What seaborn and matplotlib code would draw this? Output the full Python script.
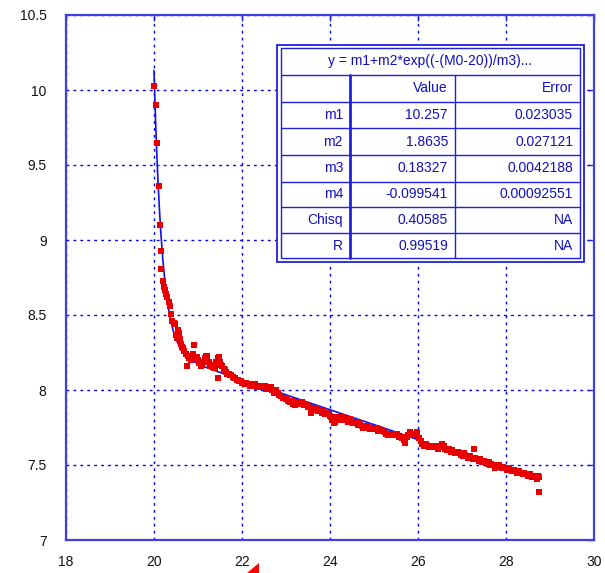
import matplotlib
matplotlib.use('Agg')
import matplotlib.pyplot as plt
import seaborn as sns
import pandas as pd
from matplotlib.patches import Rectangle, Polygon
from matplotlib.lines import Line2D

x_dados = [20.00, 20.04, 20.075, 20.11, 20.14, 20.15, 20.17, 20.20, 20.23, 20.25,
           20.27, 20.30, 20.33, 20.36, 20.39, 20.42, 20.45, 20.48, 20.50, 20.53,
           20.55, 20.57, 20.59, 20.62, 20.64, 20.67, 20.69, 20.72, 20.74, 20.77,
           20.80, 20.82, 20.85, 20.88, 20.91, 20.94, 20.97, 21.00,
           21.03, 21.06, 21.09, 21.12, 21.15, 21.18, 21.21, 21.24, 21.27, 21.30,
           21.33, 21.36, 21.39, 21.42, 21.45, 21.46, 21.48, 21.50, 21.52, 21.55,
           21.58, 21.61, 21.64, 21.67, 21.70, 21.73, 21.76, 21.79, 21.82, 21.85,
           21.88, 21.91, 21.94, 21.97, 22.00, 22.03, 22.06, 22.09, 22.12, 22.15, 22.18,
           22.21, 22.25, 22.29, 22.33, 22.37, 22.41, 22.45, 22.49, 22.53, 22.57,
           22.61, 22.65, 22.69, 22.72, 22.75, 22.78, 22.81, 22.85, 22.89, 22.93,
           22.97, 23.01, 23.05, 23.09, 23.13, 23.17, 23.21, 23.25, 23.29, 23.33,
           23.37, 23.41, 23.45, 23.49, 23.53, 23.57, 23.61, 23.65, 23.69, 23.73,
           23.77, 23.81, 23.85, 23.89, 23.93, 23.97, 24.01, 24.05, 24.08, 24.11,
           24.14, 24.17,
           24.20, 24.24, 24.28, 24.32, 24.36, 24.40, 24.44, 24.48, 24.52, 24.56,
           24.60, 24.64, 24.68, 24.72, 24.76, 24.80, 24.84, 24.88, 24.92, 24.96,
           25.00, 25.04, 25.08, 25.12, 25.16, 25.20, 25.24, 25.28, 25.32, 25.36,
           25.40, 25.44, 25.48, 25.52, 25.56, 25.60, 25.64, 25.68, 25.70, 25.74,
           25.78, 25.82, 25.86, 25.90, 25.94, 25.98, 26.02, 26.06,
           26.10, 26.14, 26.18, 26.22, 26.26, 26.30, 26.34, 26.38, 26.42, 26.46,
           26.50, 26.54, 26.58, 26.62, 26.66, 26.70, 26.74, 26.78, 26.82, 26.86,
           26.90, 26.94, 26.98, 27.02, 27.06, 27.10, 27.14, 27.18, 27.22, 27.27,
           27.30, 27.34, 27.38, 27.42, 27.46, 27.50, 27.54, 27.58, 27.62, 27.66,
           27.70, 27.74, 27.78, 27.82, 27.86, 27.90, 27.94, 27.98, 28.02, 28.06,
           28.10, 28.14, 28.18, 28.22, 28.26, 28.30, 28.34, 28.38, 28.42, 28.46,
           28.50, 28.54, 28.58, 28.62, 28.66, 28.70, 28.72, 28.75, 28.75,
           # pontos extras da faixa densa
           22.35, 22.55, 22.83, 23.03, 23.23, 23.43, 23.63, 23.83, 24.03, 24.26,
           24.46, 24.66, 24.86, 25.06, 25.26, 25.46, 25.66, 26.24, 26.44, 26.64,
           26.84, 27.04, 27.24, 27.44, 27.64, 27.84, 28.04, 28.24, 28.44, 28.64]
y_dados = [10.03, 9.90, 9.65, 9.36, 9.10, 8.93, 8.81, 8.73, 8.69, 8.67,
           8.64, 8.62, 8.59, 8.56, 8.51, 8.46, 8.45, 8.44, 8.37, 8.35,
           8.40, 8.38, 8.34, 8.31, 8.29, 8.28, 8.26, 8.24, 8.16, 8.23,
           8.21, 8.22, 8.20, 8.24, 8.30, 8.21, 8.22, 8.20,
           8.18, 8.16, 8.17, 8.19, 8.21, 8.23, 8.23, 8.19, 8.16, 8.17,
           8.17, 8.15, 8.15, 8.19, 8.21, 8.08, 8.22, 8.19, 8.17, 8.16,
           8.14, 8.13, 8.12, 8.11, 8.11, 8.10, 8.10, 8.09, 8.08, 8.08,
           8.07, 8.07, 8.06, 8.06, 8.05, 8.05, 8.04, 8.05, 8.04, 8.04, 8.03,
           8.04, 8.03, 8.04, 8.03, 8.03, 8.02, 8.03, 8.02, 8.03, 8.02,
           8.01, 8.02, 8.00, 7.98, 7.99, 8.00, 7.98, 7.97, 7.96, 7.95,
           7.95, 7.94, 7.93, 7.92, 7.93, 7.91, 7.90, 7.92, 7.91, 7.91,
           7.92, 7.90, 7.90, 7.89, 7.89, 7.85, 7.88, 7.87, 7.88, 7.86,
           7.87, 7.85, 7.85, 7.84, 7.85, 7.84, 7.83, 7.80, 7.78, 7.79,
           7.81, 7.82,
           7.82, 7.81, 7.82, 7.80, 7.81, 7.79, 7.79, 7.80, 7.78, 7.78,
           7.79, 7.77, 7.77, 7.76, 7.75, 7.76, 7.75, 7.75, 7.74, 7.75,
           7.74, 7.74, 7.73, 7.74, 7.73, 7.73, 7.72, 7.71, 7.70, 7.70,
           7.71, 7.70, 7.70, 7.71, 7.69, 7.69, 7.68, 7.67, 7.65, 7.69,
           7.70, 7.72, 7.71, 7.70, 7.70, 7.72, 7.68, 7.66,
           7.64, 7.63, 7.64, 7.63, 7.62, 7.63, 7.62, 7.63, 7.62, 7.61,
           7.62, 7.64, 7.63, 7.61, 7.60, 7.61, 7.59, 7.60, 7.59, 7.58,
           7.59, 7.58, 7.57, 7.56, 7.57, 7.56, 7.55, 7.56, 7.55, 7.61,
           7.55, 7.54, 7.53, 7.54, 7.52, 7.53, 7.52, 7.51, 7.52, 7.51,
           7.50, 7.48, 7.50, 7.49, 7.49, 7.48, 7.49, 7.48, 7.47, 7.48,
           7.47, 7.46, 7.47, 7.46, 7.45, 7.46, 7.45, 7.44, 7.45, 7.44,
           7.43, 7.44, 7.42, 7.43, 7.42, 7.41, 7.43, 7.42, 7.32,
           8.02, 8.01, 7.97, 7.95, 7.92, 7.91, 7.87, 7.86, 7.82, 7.80,
           7.81, 7.78, 7.76, 7.75, 7.72, 7.71, 7.69, 7.62, 7.63, 7.61,
           7.58, 7.58, 7.54, 7.53, 7.50, 7.50, 7.48, 7.46, 7.44, 7.42]

# Curva ajustada
x_ajuste = [20.00, 20.02, 20.04, 20.06, 20.08, 20.10, 20.13, 20.16, 20.20, 20.25,
            20.30, 20.35, 20.40, 20.45, 20.50, 20.60, 20.70, 20.80, 20.90, 21.00,
            21.20, 21.50, 22.00, 23.00, 24.00, 25.00, 26.00, 27.00, 28.00, 28.75]
y_ajuste = [10.13, 9.935, 9.76, 9.603, 9.463, 9.336, 9.17, 9.029, 8.872, 8.718,
            8.599, 8.507, 8.436, 8.381, 8.338, 8.277, 8.237, 8.21, 8.19, 8.175,
            8.149, 8.117, 8.067, 7.968, 7.868, 7.769, 7.669, 7.569, 7.47, 7.395]

# Tabela de parametros
titulo_tabela = 'y = m1+m2*exp((-(M0-20))/m3)...'
nomes = ['m1', 'm2', 'm3', 'm4', 'Chisq', 'R']
valores = ['10.257', '1.8635', '0.18327', '-0.099541', '0.40585', '0.99519']
erros = ['0.023035', '0.027121', '0.0042188', '0.00092551', 'NA', 'NA']

pontos = pd.DataFrame({'x': x_dados, 'y': y_dados})
curva = pd.DataFrame({'x': x_ajuste, 'y': y_ajuste})

sns.set_style('white')
plt.rcParams['font.family'] = ['Liberation Sans', 'DejaVu Sans']

W, H = 605, 573
fig = plt.figure(figsize=(W / 100, H / 100), dpi=100)
ax = fig.add_axes([66 / W, 1 - 540 / H, 528 / W, 525 / H])

azul = '#2020e0'
sns.lineplot(data=curva, x='x', y='y', ax=ax, color='#1010e8', linewidth=1.2,
             sort=False, estimator=None, zorder=3)
sns.scatterplot(data=pontos, x='x', y='y', ax=ax, color='#e80000', marker='s',
                s=17, linewidth=0, zorder=4)

ax.set_xlim(18, 30)
ax.set_ylim(7, 10.5)
ax.set_xticks([18, 20, 22, 24, 26, 28, 30])
ax.set_yticks([7, 7.5, 8, 8.5, 9, 9.5, 10, 10.5])
ax.set_yticklabels(['7', '7.5', '8', '8.5', '9', '9.5', '10', '10.5'])
ax.set_xlabel('')
ax.set_ylabel('')
ax.grid(True, color='#0000ff', linestyle=(0, (2, 3)), linewidth=1.0)
for s in ax.spines.values():
    s.set_color('#4040e0')
    s.set_linewidth(1.6)
ax.tick_params(direction='in', length=4, width=1, color=azul, labelsize=10,
               labelcolor='#111111', top=True, right=True)
ax.tick_params(axis='y', pad=14)
ax.tick_params(axis='x', pad=11)


def fx(px):
    return px / W


def fy(py):
    return 1 - py / H


def linha(x0, y0, x1, y1, lw=1.0):
    fig.add_artist(Line2D([fx(x0), fx(x1)], [fy(y0), fy(y1)], color=azul,
                          linewidth=lw, transform=fig.transFigure, zorder=5))


# Caixa da tabela
fig.add_artist(Rectangle((fx(277), fy(262)), (584 - 277) / W, (262 - 45) / H,
                         facecolor='white', edgecolor=azul, linewidth=1.3,
                         transform=fig.transFigure, zorder=4))
fig.add_artist(Rectangle((fx(281), fy(258)), (580 - 281) / W, (258 - 48) / H,
                         facecolor='none', edgecolor=azul, linewidth=1.0,
                         transform=fig.transFigure, zorder=5))
for py in [75, 102, 128, 155, 182, 207, 233]:
    linha(281, py, 580, py)
linha(350, 75, 350, 258, lw=2.0)
linha(455, 75, 455, 258)

cor_txt = '#1010c0'
fig.text(fx(430), fy(61), titulo_tabela, ha='center', va='center', fontsize=10,
         color=cor_txt, zorder=6)
fig.text(fx(448), fy(88.5), 'Value', ha='right', va='center', fontsize=10,
         color=cor_txt, zorder=6)
fig.text(fx(573), fy(88.5), 'Error', ha='right', va='center', fontsize=10,
         color=cor_txt, zorder=6)
centros = [115, 141.5, 168.5, 194.5, 220, 245.5]
for i, nome in enumerate(nomes):
    fig.text(fx(343), fy(centros[i]), nome, ha='right', va='center', fontsize=10,
             color=cor_txt, zorder=6)
    fig.text(fx(448), fy(centros[i]), valores[i], ha='right', va='center',
             fontsize=10, color=cor_txt, zorder=6)
    fig.text(fx(573), fy(centros[i]), erros[i], ha='right', va='center',
             fontsize=10, color=cor_txt, zorder=6)

# marca vermelha no rodape
fig.add_artist(Polygon([[fx(247), fy(573)], [fx(259), fy(573)], [fx(259), fy(563)]],
                       closed=True, facecolor='#ff0000', edgecolor='none',
                       transform=fig.transFigure, zorder=6))

fig.savefig('out.png', dpi=100)
